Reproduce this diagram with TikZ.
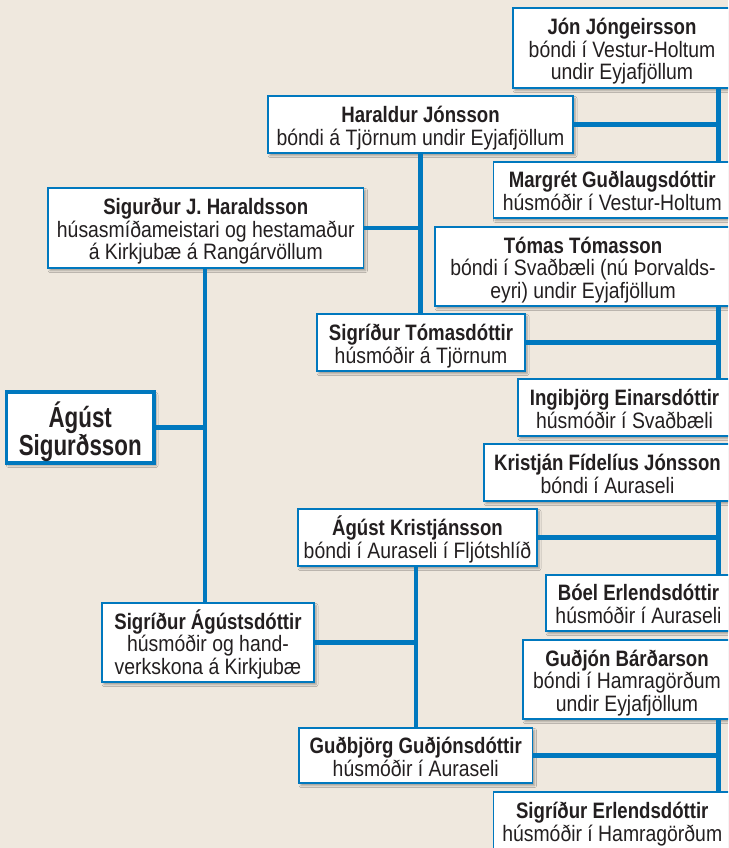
\documentclass[tikz,border=0pt]{standalone}
\usepackage{fontspec}
\setmainfont[FakeStretch=0.87, BoldFeatures={FakeStretch=0.835}]{Liberation Sans}
\newfontfamily\rootfont[FakeStretch=0.77]{Liberation Sans}
\usetikzlibrary{shadows.blur}
\definecolor{bg}{RGB}{239,232,222}
\definecolor{lblue}{RGB}{0,120,190}
\definecolor{txt}{RGB}{35,31,32}
\tikzset{
  pbox/.style={draw=lblue, line width=1.5pt, fill=white, inner sep=0pt, align=center,
    text=txt, font=\fontsize{22.3}{22.7}\selectfont,
    blur shadow={shadow xshift=2pt, shadow yshift=-2.5pt, shadow blur radius=2pt, shadow opacity=35}},
  rootbox/.style={pbox, line width=3.3pt, font=\rootfont\bfseries\fontsize{29}{24}\selectfont},
  link/.style={draw=lblue, line width=4.3pt},
}
\newcommand{\pnode}[6]{%
  \node[pbox, minimum width={(#4-#2)*1pt}, minimum height={(#5-#3)*1pt}] (#1) at ({(#2+#4)/2},{(#3+#5)/2})
    {\rule{0pt}{23.5pt}#6\rule[-5pt]{0pt}{5pt}};}
\begin{document}
\begin{tikzpicture}[x=1pt,y=-1pt]
\path[use as bounding box] (0,0) rectangle (728,848);
\fill[bg] (0,0) rectangle (728,848);
\clip (0,0) rectangle (728,848);

\pnode{jon}{513}{8}{731}{88}{\textbf{Jón Jóngeirsson}\\bóndi í Vestur-Holtum\\undir Eyjafjöllum}
\pnode{har}{268}{96}{573}{153}{\textbf{Haraldur Jónsson}\\bóndi á Tjörnum undir Eyjafjöllum}
\pnode{mar}{493.5}{162}{731}{218}{\textbf{Margrét Guðlaugsdóttir}\\húsmóðir í Vestur-Holtum}
\pnode{sig}{48}{188}{363.5}{268}{\textbf{Sigurður J. Haraldsson}\\húsasmíðameistari og hestamaður\\á Kirkjubæ á Rangárvöllum}
\pnode{tom}{435}{227}{731}{306}{\textbf{Tómas Tómasson}\\bóndi í Svaðbæli (nú Þorvalds-\\eyri) undir Eyjafjöllum}
\pnode{sigt}{317}{314}{525}{371}{\textbf{Sigríður Tómasdóttir}\\húsmóðir á Tjörnum}
\pnode{ing}{518}{379}{731}{436}{\textbf{Ingibjörg Einarsdóttir}\\húsmóðir í Svaðbæli}
\node[rootbox, minimum width=147.5pt, minimum height=71pt] (ag) at (80.25,427.5)
  {\rule{0pt}{33.7pt}Ágúst\\Sigurðsson\rule[-6.1pt]{0pt}{6.1pt}};
\pnode{kri}{484}{444}{731}{501}{\textbf{Kristján Fídelíus Jónsson}\\bóndi í Auraseli}
\pnode{agk}{298}{509}{537}{566}{\textbf{Ágúst Kristjánsson}\\bóndi í Auraseli í Fljótshlíð}
\pnode{boe}{546}{575}{731}{631}{\textbf{Bóel Erlendsdóttir}\\húsmóðir í Auraseli}
\pnode{siga}{102}{603}{314}{682}{\textbf{Sigríður Ágústsdóttir}\\húsmóðir og hand-\\verkskona á Kirkjubæ}
\pnode{gdj}{523}{640}{731}{719}{\textbf{Guðjón Bárðarson}\\bóndi í Hamragörðum\\undir Eyjafjöllum}
\pnode{gdb}{299}{728}{532.5}{783}{\textbf{Guðbjörg Guðjónsdóttir}\\húsmóðir í Auraseli}
\pnode{sige}{493.5}{792}{731}{850}{\textbf{Sigríður Erlendsdóttir}\\húsmóðir í Hamragörðum}

\coordinate (tr) at (718.5,0);
\coordinate (v1) at (205,0);
\coordinate (v3) at (416,0);

% right trunk: couples
\draw[link] (jon.south -| tr) -- (mar.north -| tr);
\draw[link] (tom.south -| tr) -- (ing.north -| tr);
\draw[link] (kri.south -| tr) -- (boe.north -| tr);
\draw[link] (gdj.south -| tr) -- (sige.north -| tr);
\draw[link] (har.east) -- (har.east -| tr);
\draw[link] (sigt.east) -- (sigt.east -| tr);
\draw[link] (agk.east) -- (agk.east -| tr);
\draw[link] (gdb.east) -- (gdb.east -| tr);

% second level
\draw[link] (har.south) -- (sigt.north -| har.south);
\draw[link] (sig.east) -- (sig.east -| har.south);
\draw[link] (agk.south -| v3) -- (gdb.north -| v3);
\draw[link] (siga.east) -- (siga.east -| v3);

% first level
\draw[link] (sig.south -| v1) -- (siga.north -| v1);
\draw[link] (ag.east) -- (ag.east -| v1);
\end{tikzpicture}
\end{document}
